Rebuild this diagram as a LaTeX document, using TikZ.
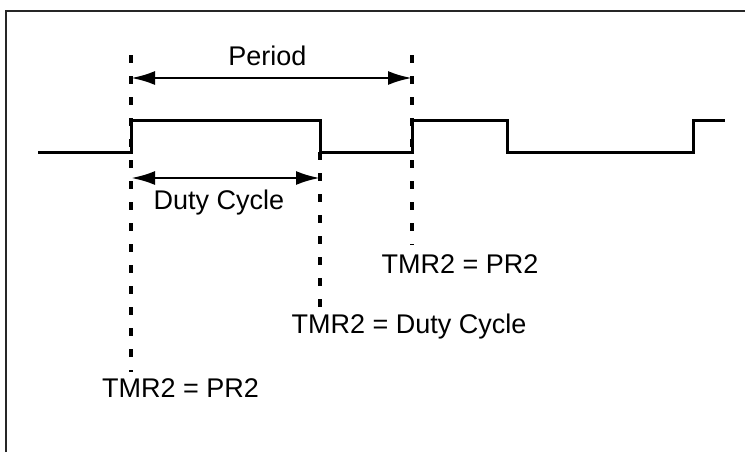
\documentclass[tikz,border=0pt]{standalone}
\usepackage{fontspec}
\setmainfont{Liberation Sans}
\usetikzlibrary{arrows.meta}

\begin{document}
\begin{tikzpicture}[
  x=0.5pt,y=-0.5pt,
  frame/.style={line width=1pt,draw=black!85},
  signal/.style={line width=1.5pt,line join=miter},
  marker/.style={line width=1.6pt,dash pattern=on 4pt off 6.5pt},
  dim/.style={{Latex[length=12pt,width=7pt]}-{Latex[length=12pt,width=7pt]},
              line width=1.4pt},
  lbl/.style={font=\fontsize{13.5}{16}\selectfont,anchor=base,inner sep=0pt}
]
\useasboundingbox (0,0) rectangle (745,452);
% Frame
\draw[frame] (6,452) -- (6,11) -- (745,11);
% Edge markers
\coordinate (p1top) at (131,55);
\coordinate (p1bot) at (131,372);
\coordinate (dctop) at (320,152);
\coordinate (dcbot) at (320,307);
\coordinate (p2top) at (412,55);
\coordinate (p2bot) at (412,245);
\draw[marker] (p1top) -- (p1bot);
\draw[marker] (dctop) -- (dcbot);
\draw[marker] (p2top) -- (p2bot);
% PWM waveform
\draw[signal] (38,152) -- (131,152) -- (131,120) -- (320,120) -- (320,152)
  -- (412,152) -- (412,120) -- (507,120) -- (507,152) -- (693,152)
  -- (693,120) -- (725,120);
% Period and duty cycle
\coordinate (perL) at (131,78);
\coordinate (perR) at (412,78);
\coordinate (dutyL) at (131,178);
\coordinate (dutyR) at (320,178);
\draw[dim] (perL) -- (perR);
\draw[dim] (dutyL) -- (dutyR);
\node[lbl] (period) at (267.5,65)  {Period};
\node[lbl] (duty)   at (219,209)   {Duty Cycle};
% Timer match labels
\node[lbl] (pr2b)   at (460,273)   {TMR2 = PR2};
\node[lbl] (dcmatch) at (409,333)  {TMR2 = Duty Cycle};
\node[lbl] (pr2a)   at (180.5,397) {TMR2 = PR2};
\end{tikzpicture}
\end{document}
